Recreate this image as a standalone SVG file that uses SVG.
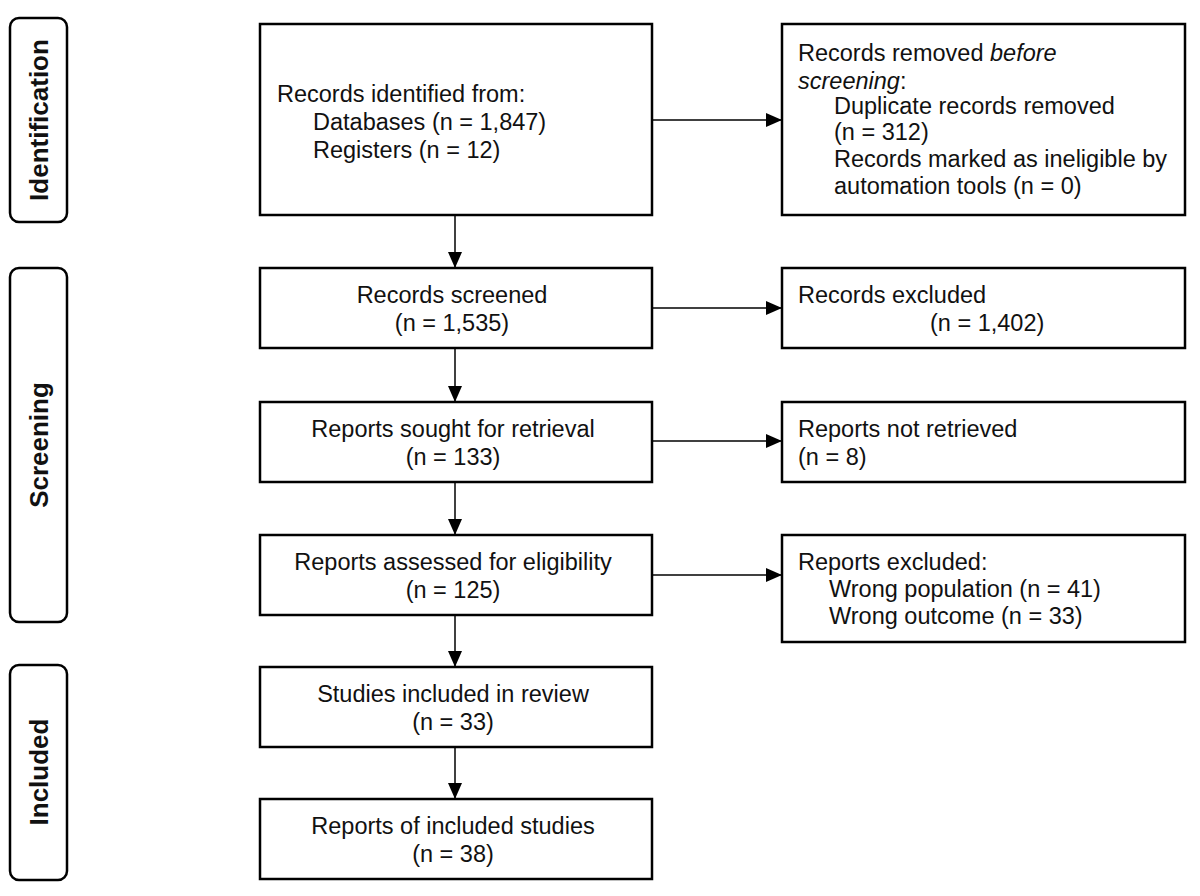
<svg xmlns="http://www.w3.org/2000/svg" width="1200" height="896" viewBox="0 0 1200 896">
<style>
.b{fill:#fff;stroke:#000;stroke-width:2.5}
.s{fill:#fff;stroke:#000;stroke-width:2.5}
text{font-family:"Liberation Sans",Arial,sans-serif;font-size:23.5px;fill:#111}
.c{text-anchor:middle}
.v{font-weight:bold;font-size:26px;text-anchor:middle}
.l{stroke:#000;stroke-width:1.5;fill:none}
</style>
<defs><marker id="a" markerWidth="16" markerHeight="14" refX="16" refY="7" orient="auto" markerUnits="userSpaceOnUse"><path d="M0,0L16,7L0,14z" fill="#000"/></marker></defs>
<rect width="1200" height="896" fill="#fff"/>
<g id="phase-identification"><rect class="s" x="10" y="18" width="57" height="204" rx="9"/><text class="v" transform="translate(48,120) rotate(-90)">Identification</text></g>
<g id="phase-screening"><rect class="s" x="10" y="268" width="57" height="354" rx="9"/><text class="v" transform="translate(48,445) rotate(-90)">Screening</text></g>
<g id="phase-included"><rect class="s" x="10" y="665" width="57" height="215" rx="9"/><text class="v" transform="translate(48,772) rotate(-90)">Included</text></g>
<g id="identified"><rect class="b" x="260" y="24" width="392" height="191"/><text x="277" y="102">Records identified from:</text><text x="313" y="130">Databases (n = 1,847)</text><text x="313" y="158">Registers (n = 12)</text></g>
<g id="removed"><rect class="b" x="782" y="24" width="403" height="191"/><text x="798" y="61">Records removed <tspan font-style="italic">before</tspan></text><text x="798" y="89"><tspan font-style="italic">screening</tspan>:</text><text x="834" y="114">Duplicate records removed</text><text x="834" y="140">(n = 312)</text><text x="834" y="167">Records marked as ineligible by</text><text x="834" y="194">automation tools (n = 0)</text></g>
<g id="screened"><rect class="b" x="260" y="268" width="392" height="80"/><text class="c" x="452" y="303">Records screened</text><text class="c" x="452" y="331">(n = 1,535)</text></g>
<g id="excluded"><rect class="b" x="782" y="268" width="403" height="80"/><text x="798" y="303">Records excluded</text><text x="930" y="331">(n = 1,402)</text></g>
<g id="sought"><rect class="b" x="260" y="402" width="392" height="80"/><text class="c" x="453" y="437">Reports sought for retrieval</text><text class="c" x="453" y="465">(n = 133)</text></g>
<g id="notretrieved"><rect class="b" x="782" y="402" width="403" height="80"/><text x="798" y="437">Reports not retrieved</text><text x="798" y="465">(n = 8)</text></g>
<g id="assessed"><rect class="b" x="260" y="535" width="392" height="80"/><text class="c" x="453" y="570">Reports assessed for eligibility</text><text class="c" x="453" y="598">(n = 125)</text></g>
<g id="reportsexcluded"><rect class="b" x="782" y="535" width="403" height="107"/><text x="798" y="570">Reports excluded:</text><text x="829" y="597">Wrong population (n = 41)</text><text x="829" y="598" visibility="hidden"> </text><text x="829" y="597" visibility="hidden"> </text><text x="829" y="597" dy="27">Wrong outcome (n = 33)</text><text x="829" y="624" dy="0" visibility="hidden"> </text><text x="829" y="624"> </text><text x="829" y="624" dy="0"> </text><text x="829" y="624" visibility="hidden"> </text><text x="829" y="651" dy="-27" visibility="hidden">x</text><text x="829" y="624" dy="0"> </text><text x="829" y="624" dy="0" visibility="hidden"> </text><text x="829" y="624"> </text></g>
<g id="studies"><rect class="b" x="260" y="667" width="392" height="80"/><text class="c" x="453" y="702">Studies included in review</text><text class="c" x="453" y="730">(n = 33)</text></g>
<g id="reports"><rect class="b" x="260" y="799" width="392" height="80"/><text class="c" x="453" y="834">Reports of included studies</text><text class="c" x="453" y="862">(n = 38)</text></g>
<g id="connectors">
<line class="l" x1="652" y1="120" x2="782" y2="120" marker-end="url(#a)"/>
<line class="l" x1="652" y1="308" x2="782" y2="308" marker-end="url(#a)"/>
<line class="l" x1="652" y1="441" x2="782" y2="441" marker-end="url(#a)"/>
<line class="l" x1="652" y1="575" x2="782" y2="575" marker-end="url(#a)"/>
<line class="l" x1="455" y1="215" x2="455" y2="268" marker-end="url(#a)"/>
<line class="l" x1="455" y1="348" x2="455" y2="402" marker-end="url(#a)"/>
<line class="l" x1="455" y1="482" x2="455" y2="535" marker-end="url(#a)"/>
<line class="l" x1="455" y1="615" x2="455" y2="667" marker-end="url(#a)"/>
<line class="l" x1="455" y1="747" x2="455" y2="799" marker-end="url(#a)"/>
</g>
</svg>
